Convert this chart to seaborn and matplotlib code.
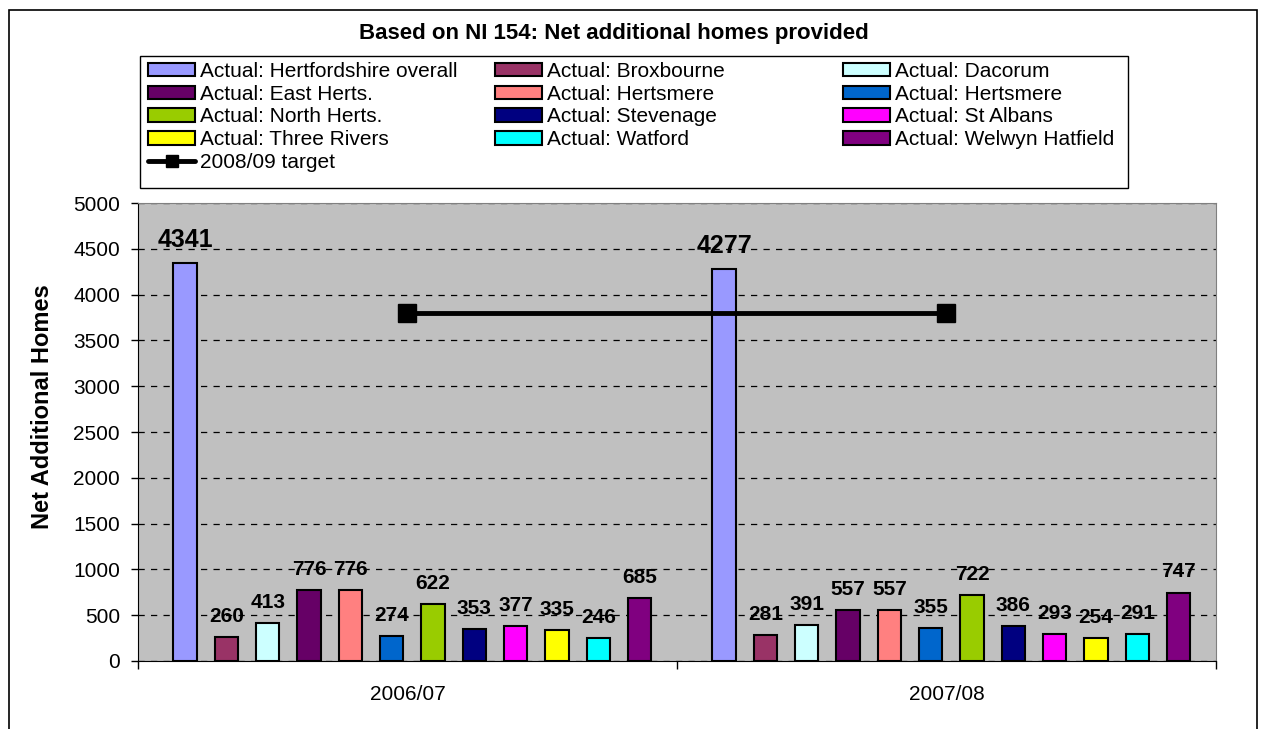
import pandas as pd
import matplotlib.pyplot as plt
import seaborn as sns
from matplotlib.patches import Patch, Rectangle
from matplotlib.lines import Line2D

years = ['2006/07', '2007/08']
series = ['Actual: Hertfordshire overall', 'Actual: Broxbourne', 'Actual: Dacorum',
          'Actual: East Herts.', 'Actual: Hertsmere', 'Actual: Hertsmere',
          'Actual: North Herts.', 'Actual: Stevenage', 'Actual: St Albans',
          'Actual: Three Rivers', 'Actual: Watford', 'Actual: Welwyn Hatfield']
colors = ['#9999FF', '#993366', '#CCFFFF', '#660066', '#FF8080', '#0066CC',
          '#99CC00', '#000080', '#FF00FF', '#FFFF00', '#00FFFF', '#800080']
values_0607 = [4341, 260, 413, 776, 776, 274, 622, 353, 377, 335, 246, 685]
values_0708 = [4277, 281, 391, 557, 557, 355, 722, 386, 293, 254, 291, 747]
target_label = '2008/09 target'
target = [3800, 3800]

# unique keys because "Hertsmere" appears twice
keys = [f'{i:02d} {s}' for i, s in enumerate(series)]
rows = []
for yr, vals in zip(years, [values_0607, values_0708]):
    for k, v in zip(keys, vals):
        rows.append({'year': yr, 'series': k, 'value': v})
df = pd.DataFrame(rows)
palette = dict(zip(keys, colors))

sns.set_style('white')
plt.rcParams['font.family'] = ['Liberation Sans', 'DejaVu Sans']
plt.rcParams.update({'text.color': 'black', 'axes.labelcolor': 'black',
                     'xtick.color': 'black', 'ytick.color': 'black'})

fig = plt.figure(figsize=(12.66, 7.29), dpi=100)
ax = fig.add_axes([0.109, 0.0933, 0.8515, 0.6282])
ax.set_facecolor('#C0C0C0')

sns.barplot(data=df, x='year', y='value', hue='series', hue_order=keys,
            palette=palette, saturation=1, width=0.92, gap=0.44,
            edgecolor='black', linewidth=1.5, legend=False, ax=ax, zorder=3)

# Excel puts the group a touch right of centre
for p in ax.patches:
    p.set_x(p.get_x() + 0.009)

for i, cont in enumerate(ax.containers):
    ax.bar_label(cont, padding=8, fontsize=18 if i == 0 else 15,
                 fontweight='bold')

ax.plot([0, 1], target, color='black', lw=3.5, marker='s', ms=13, zorder=5)

ax.set_ylim(0, 5000)
ax.set_xlim(-0.5, 1.5)
ax.set_yticks(range(0, 5001, 500))
ax.yaxis.grid(True, color='black', linestyle=(0, (5, 5)), linewidth=0.9)
ax.set_axisbelow(True)
ax.tick_params(axis='y', left=True, length=5, width=1, labelsize=15, pad=8)
ax.set_xticks([-0.5, 0.5, 1.5], minor=True)
ax.tick_params(axis='x', which='major', length=0, labelsize=15, pad=17)
ax.tick_params(axis='x', which='minor', bottom=True, length=6, width=1)
for s in ['top', 'right']:
    ax.spines[s].set_color('#808080')
for s in ['left', 'bottom']:
    ax.spines[s].set_color('black')
ax.set_xlabel('')
ax.set_ylabel('Net Additional Homes', fontsize=17, fontweight='bold')
ax.yaxis.set_label_coords(-0.078, 0.555)

fig.suptitle('Based on NI 154: Net additional homes provided', x=0.485, y=0.968,
             fontsize=16, fontweight='bold')

# legend: three columns of equal width, like Excel
patches = [Patch(facecolor=c, edgecolor='black', linewidth=1.5, label=s)
           for s, c in zip(series, colors)]
tline = Line2D([], [], color='black', lw=3.5, marker='s', ms=9, label=target_label)
columns = [[patches[0], patches[3], patches[6], patches[9], tline],
           [patches[1], patches[4], patches[7], patches[10]],
           [patches[2], patches[5], patches[8], patches[11]]]
col_x = [148 / 1266, 495 / 1266, 843 / 1266]
for hs, x in zip(columns, col_x):
    fig.legend(handles=hs, labels=[h.get_label() for h in hs],
               loc='upper left', bbox_to_anchor=(x, 1 - 62 / 729),
               fontsize=15, frameon=False, handlelength=2.26, handleheight=0.62,
               handletextpad=0.24, labelspacing=0.18, borderpad=0,
               borderaxespad=0)
fig.patches.append(Rectangle((140 / 1266, 1 - 188 / 729), 988 / 1266, 132 / 729,
                             transform=fig.transFigure, fill=False,
                             edgecolor='black', linewidth=1))

fig.patches.append(Rectangle((0.007, -0.05), 0.986, 1.036, transform=fig.transFigure,
                             fill=False, edgecolor='black', linewidth=1.2))

fig.savefig('out.png', dpi=100)
